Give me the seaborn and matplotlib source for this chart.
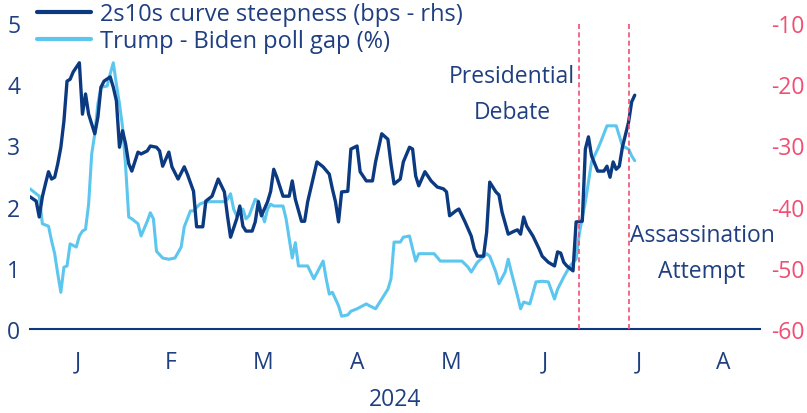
import matplotlib
matplotlib.use("Agg")
import matplotlib.pyplot as plt
import pandas as pd
import seaborn as sns
from matplotlib.lines import Line2D

# 2s10s curve steepness, bps (right-hand axis)
curve_dates = [
    "2024-01-01", "2024-01-03", "2024-01-04", "2024-01-05", "2024-01-06", "2024-01-07",
    "2024-01-08", "2024-01-09", "2024-01-10", "2024-01-11", "2024-01-12", "2024-01-13",
    "2024-01-14", "2024-01-15", "2024-01-17", "2024-01-18", "2024-01-19", "2024-01-20",
    "2024-01-22", "2024-01-23", "2024-01-24", "2024-01-25", "2024-01-27", "2024-01-28",
    "2024-01-29", "2024-01-30", "2024-01-31", "2024-02-01", "2024-02-02", "2024-02-03",
    "2024-02-05", "2024-02-06", "2024-02-08", "2024-02-09", "2024-02-11", "2024-02-12",
    "2024-02-13", "2024-02-15", "2024-02-16", "2024-02-18", "2024-02-20", "2024-02-21",
    "2024-02-23", "2024-02-24", "2024-02-26", "2024-02-27", "2024-02-29", "2024-03-02",
    "2024-03-04", "2024-03-05", "2024-03-06", "2024-03-08", "2024-03-09", "2024-03-10",
    "2024-03-11", "2024-03-13", "2024-03-14", "2024-03-15", "2024-03-16", "2024-03-18",
    "2024-03-19", "2024-03-20", "2024-03-21", "2024-03-23", "2024-03-25", "2024-03-26",
    "2024-03-27", "2024-03-29", "2024-03-30", "2024-03-31", "2024-04-02", "2024-04-03",
    "2024-04-05", "2024-04-07", "2024-04-08", "2024-04-09", "2024-04-10", "2024-04-11",
    "2024-04-13", "2024-04-14", "2024-04-16", "2024-04-17", "2024-04-19", "2024-04-21",
    "2024-04-22", "2024-04-24", "2024-04-26", "2024-04-27", "2024-04-28", "2024-04-30",
    "2024-05-01", "2024-05-03", "2024-05-04", "2024-05-05", "2024-05-06", "2024-05-08",
    "2024-05-10", "2024-05-12", "2024-05-14", "2024-05-15", "2024-05-16", "2024-05-18",
    "2024-05-19", "2024-05-21", "2024-05-23", "2024-05-24", "2024-05-25", "2024-05-27",
    "2024-05-28", "2024-05-29", "2024-05-31", "2024-06-01", "2024-06-02", "2024-06-04",
    "2024-06-06", "2024-06-07", "2024-06-08", "2024-06-09", "2024-06-10", "2024-06-12",
    "2024-06-14", "2024-06-15", "2024-06-17", "2024-06-19", "2024-06-20", "2024-06-21",
    "2024-06-22", "2024-06-23", "2024-06-25", "2024-06-26", "2024-06-28", "2024-06-29",
    "2024-06-30", "2024-07-01", "2024-07-03", "2024-07-05", "2024-07-06", "2024-07-07",
    "2024-07-08", "2024-07-09", "2024-07-10", "2024-07-11", "2024-07-13", "2024-07-14",
    "2024-07-15",
]
curve_bps = [
    -38.4, -39.1, -41.7, -38.4, -36.3, -34.3,
    -35.5, -35.2, -33.0, -30.3, -26.0, -19.5,
    -19.2, -18.0, -16.5, -24.9, -21.6, -24.9,
    -28.1, -25.4, -20.5, -19.5, -18.8, -20.5,
    -22.7, -30.3, -27.6, -29.8, -33.0, -34.2,
    -31.1, -31.4, -30.9, -30.1, -30.3, -30.9,
    -33.4, -31.1, -33.5, -35.5, -33.5, -34.7,
    -37.5, -43.3, -43.3, -39.1, -38.3, -35.5,
    -37.6, -41.5, -45.0, -42.0, -39.9, -43.2,
    -44.0, -44.0, -42.5, -39.2, -41.5, -39.2,
    -37.5, -33.9, -35.2, -38.3, -38.3, -35.8,
    -38.8, -42.4, -42.4, -39.2, -34.9, -32.7,
    -33.5, -34.7, -37.1, -39.2, -42.5, -37.6,
    -37.5, -30.6, -30.1, -34.3, -35.8, -35.8,
    -32.7, -28.1, -29.0, -33.0, -36.3, -35.5,
    -32.7, -30.3, -30.6, -35.0, -36.6, -34.3,
    -35.8, -36.8, -37.1, -37.6, -41.5, -40.7,
    -40.4, -42.5, -44.8, -46.9, -48.1, -48.1,
    -44.2, -36.0, -37.6, -38.1, -40.9, -44.5,
    -44.0, -43.8, -44.5, -41.7, -43.2, -44.8,
    -46.9, -48.1, -49.1, -49.7, -47.4, -47.6,
    -49.1, -49.7, -50.5, -42.5, -42.4, -30.6,
    -28.6, -31.7, -34.2, -34.2, -33.4, -35.2,
    -32.7, -33.9, -33.4, -30.3, -26.2, -22.9,
    -21.8,
]

# Trump minus Biden poll gap, % (left-hand axis)
poll_dates = [
    "2024-01-01", "2024-01-03", "2024-01-04", "2024-01-05", "2024-01-07", "2024-01-08",
    "2024-01-09", "2024-01-10", "2024-01-11", "2024-01-12", "2024-01-13", "2024-01-14",
    "2024-01-16", "2024-01-17", "2024-01-18", "2024-01-19", "2024-01-20", "2024-01-21",
    "2024-01-22", "2024-01-23", "2024-01-24", "2024-01-26", "2024-01-27", "2024-01-28",
    "2024-01-29", "2024-01-30", "2024-01-31", "2024-02-01", "2024-02-02", "2024-02-03",
    "2024-02-05", "2024-02-06", "2024-02-08", "2024-02-09", "2024-02-10", "2024-02-11",
    "2024-02-13", "2024-02-15", "2024-02-17", "2024-02-19", "2024-02-20", "2024-02-22",
    "2024-02-23", "2024-02-25", "2024-02-27", "2024-03-01", "2024-03-04", "2024-03-05",
    "2024-03-06", "2024-03-07", "2024-03-08", "2024-03-10", "2024-03-11", "2024-03-12",
    "2024-03-14", "2024-03-15", "2024-03-17", "2024-03-18", "2024-03-19", "2024-03-20",
    "2024-03-23", "2024-03-24", "2024-03-26", "2024-03-27", "2024-03-28", "2024-03-31",
    "2024-04-02", "2024-04-05", "2024-04-06", "2024-04-07", "2024-04-08", "2024-04-10",
    "2024-04-11", "2024-04-13", "2024-04-14", "2024-04-16", "2024-04-19", "2024-04-20",
    "2024-04-22", "2024-04-24", "2024-04-26", "2024-04-27", "2024-04-28", "2024-04-30",
    "2024-05-01", "2024-05-03", "2024-05-04", "2024-05-05", "2024-05-06", "2024-05-11",
    "2024-05-13", "2024-05-20", "2024-05-22", "2024-05-23", "2024-05-25", "2024-05-28",
    "2024-05-29", "2024-05-31", "2024-06-01", "2024-06-03", "2024-06-04", "2024-06-05",
    "2024-06-07", "2024-06-08", "2024-06-09", "2024-06-11", "2024-06-13", "2024-06-15",
    "2024-06-17", "2024-06-19", "2024-06-20", "2024-06-22", "2024-06-24", "2024-06-26",
    "2024-06-27", "2024-06-29", "2024-06-30", "2024-07-01", "2024-07-03", "2024-07-04",
    "2024-07-06", "2024-07-09", "2024-07-11", "2024-07-13", "2024-07-14", "2024-07-15",
]
poll_gap = [
    2.29, 2.21, 2.17, 1.72, 1.68, 1.44,
    1.23, 0.90, 0.60, 1.01, 1.03, 1.39,
    1.34, 1.52, 1.60, 1.63, 2.04, 2.86,
    3.19, 3.68, 3.95, 3.97, 4.17, 4.35,
    4.00, 3.68, 3.30, 2.65, 1.83, 1.80,
    1.72, 1.52, 1.76, 1.90, 1.80, 1.27,
    1.16, 1.14, 1.16, 1.34, 1.67, 1.93,
    1.93, 2.04, 2.08, 2.08, 2.08, 2.12,
    2.21, 1.96, 1.85, 1.96, 1.80, 1.85,
    2.12, 2.09, 1.75, 1.96, 2.04, 2.01,
    2.01, 1.80, 1.16, 1.41, 1.03, 1.03,
    0.82, 1.11, 0.82, 0.57, 0.60, 0.38,
    0.21, 0.23, 0.29, 0.33, 0.41, 0.38,
    0.33, 0.49, 0.65, 0.82, 1.42, 1.42,
    1.50, 1.52, 1.31, 1.11, 1.23, 1.23,
    1.11, 1.11, 1.01, 0.93, 1.09, 1.23,
    1.19, 0.93, 0.74, 0.93, 1.14, 0.93,
    0.54, 0.33, 0.44, 0.41, 0.77, 0.78,
    0.77, 0.49, 0.65, 0.85, 1.03, 1.14,
    1.55, 2.08, 2.40, 2.73, 2.94, 3.06,
    3.32, 3.32, 2.99, 2.94, 2.83, 2.75,
]

event_dates = ["2024-06-27", "2024-07-13"]
month_starts = ["2024-01-01", "2024-02-01", "2024-03-01", "2024-04-01",
                "2024-05-01", "2024-06-01", "2024-07-01", "2024-08-01"]
month_labels = ["J", "F", "M", "A", "M", "J", "J", "A"]
left_ticks = [0, 1, 2, 3, 4, 5]
right_ticks = [-60, -50, -40, -30, -20, -10]
curve_label = "2s10s curve steepness (bps - rhs)"
poll_label = "Trump - Biden poll gap (%)"
year_label = "2024"

NAVY = "#0c3a80"
LIGHT = "#5cc6ef"
TEXT = "#1f3f80"
PINK = "#f24d72"
FS = 16.5

sns.set_style("white")
plt.rcParams["font.family"] = ["Open Sans", "DejaVu Sans"]
plt.rcParams["font.size"] = FS

W, H = 807, 414
fig = plt.figure(figsize=(W / 100, H / 100), dpi=100)
ax = fig.add_axes([30 / W, 1 - 330 / H, 730 / W, 306 / H])
ax2 = ax.twinx()

poll = pd.DataFrame({"date": pd.to_datetime(poll_dates), "gap": poll_gap})
curve = pd.DataFrame({"date": pd.to_datetime(curve_dates), "bps": curve_bps})

sns.lineplot(data=poll, x="date", y="gap", ax=ax, color=LIGHT, linewidth=2.2)
sns.lineplot(data=curve, x="date", y="bps", ax=ax2, color=NAVY, linewidth=2.4)

start = pd.Timestamp("2024-01-01")
end = start + pd.Timedelta(days=236.6)
ax.set_xlim(start, end)
ax.set_ylim(0, 5)
ax2.set_ylim(-60, -10)

for d in event_dates:
    ax2.axvline(pd.Timestamp(d), color=PINK, linestyle=(0, (3, 2)), linewidth=1.2)

# Month ticks at month starts, letters centred within each month
starts = pd.to_datetime(month_starts)
edges = list(starts) + [end]
mids = [a + (b - a) / 2 for a, b in zip(edges[:-1], edges[1:])]
ax.set_xticks(starts)
ax.set_xticklabels([""] * len(starts))
ax.set_xticks(mids, minor=True)
ax.set_xticklabels(month_labels, minor=True)
ax.tick_params(axis="x", which="major", length=10, width=1.5, color=NAVY, direction="out")
ax.tick_params(axis="x", which="minor", length=0, pad=15, labelcolor=TEXT, labelsize=FS)
ax.set_xlabel("")
ax.set_ylabel("")
ax2.set_ylabel("")

ax.set_yticks(left_ticks)
ax.set_yticklabels([str(v) for v in left_ticks])
ax.tick_params(axis="y", length=0, pad=7, labelcolor=TEXT, labelsize=FS)
ax2.set_yticks(right_ticks)
ax2.set_yticklabels([str(v) for v in right_ticks])
ax2.tick_params(axis="y", length=0, pad=8, labelcolor=PINK, labelsize=FS)

for s in ["top", "left", "right"]:
    ax.spines[s].set_visible(False)
for s in ax2.spines.values():
    s.set_visible(False)
ax.spines["bottom"].set_color(NAVY)
ax.spines["bottom"].set_linewidth(1.5)

handles = [Line2D([], [], color=NAVY, linewidth=3),
           Line2D([], [], color=LIGHT, linewidth=3)]
fig.legend(handles, [curve_label, poll_label], loc="upper left",
           bbox_to_anchor=(37 / W, 1 - 3 / H), frameon=False, borderpad=0,
           borderaxespad=0, handlelength=2.3, handletextpad=0.35,
           labelspacing=0.12, fontsize=17, labelcolor=TEXT)

fig.text(512 / W, 1 - 95 / H, "Presidential\nDebate", ha="center", va="center",
         color=TEXT, fontsize=FS, linespacing=1.72)
fig.text(702 / W, 1 - 254 / H, "Assassination\nAttempt", ha="center", va="center",
         color=TEXT, fontsize=FS, linespacing=1.68)
fig.text(395 / W, 1 - 400 / H, year_label, ha="center", va="center",
         color=TEXT, fontsize=FS)

fig.savefig("out.png", dpi=100)
